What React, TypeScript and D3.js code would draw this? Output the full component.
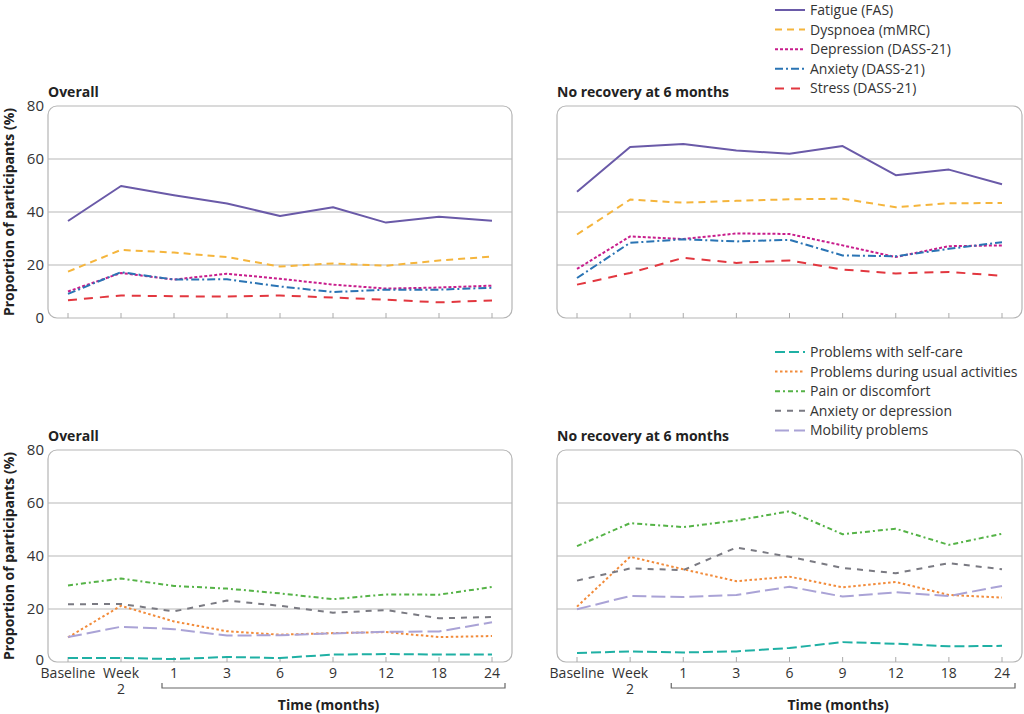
import { useEffect } from "react";
import * as d3 from "d3";

const timepoints = ["Baseline", "Week 2", "1", "3", "6", "9", "12", "18", "24"];
const yTicks = [0, 20, 40, 60, 80];

const fatigueOverall = [36.6, 49.8, 46.3, 43.2, 38.5, 41.8, 36.0, 38.2, 36.7];
const dyspnoeaOverall = [17.5, 25.7, 24.7, 23.0, 19.4, 20.6, 19.7, 21.7, 23.2];
const depressionOverall = [10.0, 17.0, 14.5, 16.7, 14.8, 12.6, 11.1, 11.5, 12.2];
const anxietyOverall = [9.1, 17.3, 14.5, 14.6, 11.9, 9.8, 10.7, 10.7, 11.4];
const stressOverall = [6.7, 8.5, 8.2, 8.1, 8.5, 7.7, 6.9, 5.9, 6.6];

const fatigueNoRec = [47.6, 64.5, 65.7, 63.2, 62.0, 64.9, 53.9, 56.0, 50.5];
const dyspnoeaNoRec = [31.5, 44.7, 43.5, 44.2, 44.8, 45.0, 41.8, 43.3, 43.4];
const depressionNoRec = [18.5, 30.8, 29.8, 31.9, 31.7, 27.4, 23.0, 27.1, 27.4];
const anxietyNoRec = [15.1, 28.4, 29.7, 28.9, 29.5, 23.6, 23.3, 26.1, 28.6];
const stressNoRec = [12.6, 17.0, 22.7, 20.8, 21.7, 18.3, 16.8, 17.4, 15.9];

const selfCareOverall = [1.5, 1.5, 1.1, 1.9, 1.5, 2.8, 3.0, 2.8, 2.8];
const usualOverall = [9.3, 21.2, 15.3, 11.6, 10.3, 10.9, 11.3, 9.4, 9.8];
const painOverall = [28.9, 31.5, 28.7, 27.7, 25.9, 23.7, 25.5, 25.4, 28.3];
const anxDepOverall = [21.8, 21.9, 19.1, 23.2, 21.2, 18.6, 19.6, 16.5, 17.0];
const mobilityOverall = [9.4, 13.3, 12.4, 10.0, 10.1, 10.8, 11.4, 11.5, 15.0];

const selfCareNoRec = [3.4, 4.0, 3.6, 4.0, 5.3, 7.5, 6.9, 5.9, 6.1];
const usualNoRec = [20.9, 39.7, 35.0, 30.5, 32.2, 28.2, 30.2, 25.3, 24.3];
const painNoRec = [43.7, 52.4, 50.9, 53.4, 56.9, 48.2, 50.3, 44.2, 48.4];
const anxDepNoRec = [30.7, 35.3, 34.7, 43.2, 39.7, 35.5, 33.5, 37.3, 35.0];
const mobilityNoRec = [19.9, 24.9, 24.5, 25.3, 28.4, 24.7, 26.3, 24.9, 28.7];

type Style = { label: string; color: string; dash: string; width: number };

const symptomStyles: Style[] = [
  { label: "Fatigue (FAS)", color: "#6a5aa8", dash: "", width: 2 },
  { label: "Dyspnoea (mMRC)", color: "#f5b53c", dash: "7,5", width: 2 },
  { label: "Depression (DASS-21)", color: "#c81d8c", dash: "3,2", width: 2 },
  { label: "Anxiety (DASS-21)", color: "#2a74b4", dash: "8,3,2,3", width: 2 },
  { label: "Stress (DASS-21)", color: "#e2373f", dash: "9,7", width: 2 },
];

const eqStyles: Style[] = [
  { label: "Problems with self-care", color: "#1fb0a4", dash: "10,4", width: 2 },
  { label: "Problems during usual activities", color: "#f28b3a", dash: "2.5,2.5", width: 2 },
  { label: "Pain or discomfort", color: "#55b347", dash: "5,3,2,3", width: 2 },
  { label: "Anxiety or depression", color: "#7a7a82", dash: "6,6", width: 2 },
  { label: "Mobility problems", color: "#aaa3d6", dash: "14,5", width: 2 },
];

const FONT = "'Open Sans', 'Noto Sans', sans-serif";
const TEXT = "#333";

type PanelProps = {
  x0: number;
  x1: number;
  yTop: number;
  yBottom: number;
  title: string;
  series: number[][];
  styles: Style[];
  showYAxis: boolean;
  showXAxis: boolean;
};

function Panel({ x0, x1, yTop, yBottom, title, series, styles, showYAxis, showXAxis }: PanelProps) {
  const x = d3.scalePoint<string>().domain(timepoints).range([x0 + 20, x1 - 20]);
  const y = d3.scaleLinear().domain([0, 80]).range([yBottom, yTop]);
  const line = d3
    .line<number>()
    .x((_, i) => x(timepoints[i]) ?? 0)
    .y((d) => y(d));

  const bracketStart = (x(timepoints[2]) ?? 0) - 12;
  const bracketEnd = x1 - 7;

  return (
    <g>
      <text x={x0} y={yTop - 9} fontFamily={FONT} fontWeight={700} fontSize={14} fill="#222">
        {title}
      </text>
      <rect
        x={x0}
        y={yTop}
        width={x1 - x0}
        height={yBottom - yTop}
        rx={9}
        fill="#fff"
        stroke="#b5b5b5"
        strokeWidth={1.2}
      />
      {yTicks
        .filter((t) => t > 0 && t < 80)
        .map((t) => (
          <line key={t} x1={x0} x2={x1} y1={y(t)} y2={y(t)} stroke="#b8b8b8" strokeWidth={1.2} />
        ))}
      {timepoints.map((t) => (
        <line
          key={t}
          x1={x(t)}
          x2={x(t)}
          y1={yBottom}
          y2={yBottom - 5}
          stroke="#aaa"
          strokeWidth={1}
        />
      ))}
      {showYAxis &&
        yTicks.map((t) => (
          <text
            key={t}
            x={x0 - 4}
            y={y(t) - (t === 0 && showXAxis ? 2 : 0)}
            dy="0.36em"
            textAnchor="end"
            fontFamily={FONT}
            fontSize={15}
            fill={TEXT}
          >
            {t}
          </text>
        ))}
      {series.map((values, i) => (
        <path
          key={styles[i].label}
          d={line(values) ?? ""}
          fill="none"
          stroke={styles[i].color}
          strokeWidth={styles[i].width}
          strokeDasharray={styles[i].dash}
          strokeLinejoin="round"
        />
      ))}
      {showXAxis && (
        <g>
          {timepoints.map((t) => {
            const parts = t.split(" ");
            return (
              <text
                key={t}
                x={x(t)}
                y={yBottom + 16}
                textAnchor="middle"
                fontFamily={FONT}
                fontSize={14}
                fill={TEXT}
              >
                {parts.map((p, j) => (
                  <tspan key={j} x={x(t)} dy={j === 0 ? 0 : 16}>
                    {p}
                  </tspan>
                ))}
              </text>
            );
          })}
          <path
            d={`M${bracketStart},${yBottom + 21}V${yBottom + 26}H${bracketEnd}V${yBottom + 21}`}
            fill="none"
            stroke="#666"
            strokeWidth={1.2}
          />
          <text
            x={(bracketStart + bracketEnd) / 2 - 5}
            y={yBottom + 48}
            textAnchor="middle"
            fontFamily={FONT}
            fontWeight={700}
            fontSize={14}
            fill="#222"
          >
            Time (months)
          </text>
        </g>
      )}
    </g>
  );
}

function Legend({ x, y, styles }: { x: number; y: number; styles: Style[] }) {
  return (
    <g>
      {styles.map((s, i) => (
        <g key={s.label} transform={`translate(${x},${y + i * 19.6})`}>
          <line x1={0} x2={30} y1={0} y2={0} stroke={s.color} strokeWidth={2} strokeDasharray={s.dash} />
          <text x={35} y={0} dy="0.35em" fontFamily={FONT} fontSize={14} fill={TEXT}>
            {s.label}
          </text>
        </g>
      ))}
    </g>
  );
}

function YLabel({ cy }: { cy: number }) {
  return (
    <text
      transform={`translate(14,${cy}) rotate(-90)`}
      textAnchor="middle"
      fontFamily={FONT}
      fontWeight={700}
      fontSize={14}
      fill="#222"
    >
      Proportion of participants (%)
    </text>
  );
}

export default function App() {
  useEffect(() => {
    document.body.style.margin = "0";
  }, []);

  return (
    <svg width={1024} height={714} style={{ display: "block", background: "#fff" }}>
      <Legend x={775} y={10} styles={symptomStyles} />
      <Legend x={775} y={352} styles={eqStyles} />
      <YLabel cy={212} />
      <YLabel cy={556} />
      <Panel
        x0={48}
        x1={512}
        yTop={106}
        yBottom={318}
        title="Overall"
        series={[fatigueOverall, dyspnoeaOverall, depressionOverall, anxietyOverall, stressOverall]}
        styles={symptomStyles}
        showYAxis
        showXAxis={false}
      />
      <Panel
        x0={557}
        x1={1022}
        yTop={106}
        yBottom={318}
        title="No recovery at 6 months"
        series={[fatigueNoRec, dyspnoeaNoRec, depressionNoRec, anxietyNoRec, stressNoRec]}
        styles={symptomStyles}
        showYAxis={false}
        showXAxis={false}
      />
      <Panel
        x0={48}
        x1={512}
        yTop={450}
        yBottom={662}
        title="Overall"
        series={[selfCareOverall, usualOverall, painOverall, anxDepOverall, mobilityOverall]}
        styles={eqStyles}
        showYAxis
        showXAxis
      />
      <Panel
        x0={557}
        x1={1022}
        yTop={450}
        yBottom={662}
        title="No recovery at 6 months"
        series={[selfCareNoRec, usualNoRec, painNoRec, anxDepNoRec, mobilityNoRec]}
        styles={eqStyles}
        showYAxis={false}
        showXAxis
      />
    </svg>
  );
}
